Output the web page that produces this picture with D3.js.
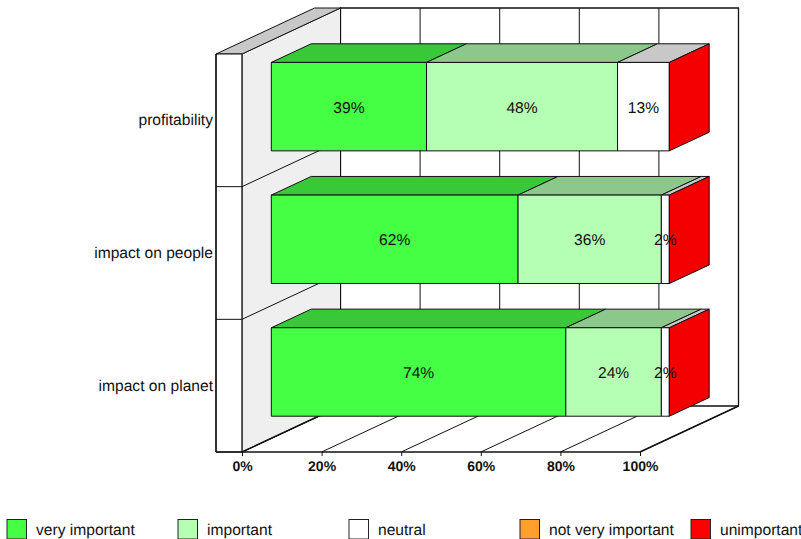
<!DOCTYPE html>
<html>
<head>
<meta charset="utf-8">
<script src="https://cdn.jsdelivr.net/npm/d3@7"></script>
<style>
html,body{margin:0;padding:0;background:#fff;overflow:hidden}
svg{display:block}
text{font-family:"Liberation Sans",Arial,sans-serif;fill:#111;text-rendering:geometricPrecision}
</style>
</head>
<body>
<svg id="chart" width="801" height="539"></svg>
<script>
// Share of respondents per rating, in percent
const categories = ["profitability", "impact on people", "impact on planet"];
const seriesNames = ["very important", "important", "neutral", "not very important", "unimportant"];
const veryImportant = [39, 62, 74];
const important = [48, 36, 24];
const neutral = [13, 2, 2];
const notVeryImportant = [0, 0, 0];
const unimportant = [0, 0, 0];
const xTicks = [0, 20, 40, 60, 80, 100];

const frontColors = ["#44ff44", "#b4ffb4", "#ffffff", "#ff9f2e", "#ff0000"];
const topColors = ["#38c838", "#8cc88c", "#c8c8c8", "#c87d24", "#c80000"];
const sideColors = ["#38c838", "#8cc88c", "#c8c8c8", "#c87d24", "#f40000"];

const seriesValues = [veryImportant, important, neutral, notVeryImportant, unimportant];
const svg = d3.select("#chart");

// Front plane of the 3D box and the depth vector running to its back wall
const frontLeft = 242, frontRight = 640, frontTop = 54, frontBottom = 452;
const depthX = 98.5, depthY = -46;
const panelLeft = 216;

const x = d3.scaleLinear().domain([0, 100]).range([0, frontRight - frontLeft]);
const y = d3.scaleBand().domain(categories).range([frontTop, frontBottom])
  .paddingInner(1 / 3).paddingOuter(1 / 6);
// Fraction of the depth: bars sit in the middle 40% of the box
const barNear = 0.2975, barFar = 0.7025;

const poly = (pts, fill, stroke, width) => svg.append("polygon")
  .attr("points", pts.map(p => p.join(",")).join(" "))
  .attr("fill", fill).attr("stroke", stroke || "#111").attr("stroke-width", width || 1)
  .attr("stroke-linejoin", "round");
const line = (a, b, width, color) => svg.append("line")
  .attr("x1", a[0]).attr("y1", a[1]).attr("x2", b[0]).attr("y2", b[1])
  .attr("stroke", color || "#111").attr("stroke-width", width || 1);

// Back wall with its vertical gridlines
poly([[frontLeft + depthX, frontTop + depthY], [frontRight + depthX, frontTop + depthY],
      [frontRight + depthX, frontBottom + depthY], [frontLeft + depthX, frontBottom + depthY]], "#fff", "#111", 1.3);
xTicks.forEach(t => {
  const px = frontLeft + x(t);
  line([px + depthX, frontTop + depthY], [px + depthX, frontBottom + depthY], 1);
  // floor gridline
  line([px, frontBottom], [px + depthX, frontBottom + depthY], 1);
});

// Left wall
poly([[frontLeft, frontTop], [frontLeft + depthX, frontTop + depthY],
      [frontLeft + depthX, frontBottom + depthY], [frontLeft, frontBottom]], "#efefef", "#111", 1);
// Top of the raised left panel
poly([[panelLeft, frontTop], [frontLeft, frontTop], [frontLeft + depthX, frontTop + depthY],
      [panelLeft + depthX, frontTop + depthY]], "#c8c8c8", "#111", 1);
// Front of the left panel
poly([[panelLeft, frontTop], [frontLeft, frontTop], [frontLeft, frontBottom], [panelLeft, frontBottom]], "#fff", "#111", 1);
line([panelLeft, frontTop], [panelLeft, frontBottom], 1.4);
line([frontLeft, frontTop], [frontLeft, frontBottom], 1, "#444");

// Category separators across the panel and up the left wall
const step = y.step();
categories.slice(1).forEach((c, i) => {
  const yy = frontTop + step * (i + 1);
  line([panelLeft, yy], [frontLeft, yy], 1);
  line([frontLeft, yy], [frontLeft + depthX, yy + depthY], 1);
});

// Floor edges
line([frontLeft, frontBottom], [frontLeft + depthX, frontBottom + depthY], 1.5);
line([frontRight, frontBottom], [frontRight + depthX, frontBottom + depthY], 1.5);

// Stacked 3D bars
const dx0 = depthX * barNear, dy0 = depthY * barNear;
const dx1 = depthX * barFar, dy1 = depthY * barFar;
categories.forEach((c, row) => {
  let acc = 0;
  const top = y(c) + dy0, h = y.bandwidth();
  seriesValues.forEach((vals, s) => {
    const v = vals[row];
    const xa = frontLeft + x(acc) + dx0, xb = frontLeft + x(acc + v) + dx0;
    const bx = dx1 - dx0, by = dy1 - dy0;
    acc += v;
    if (v > 0) {
      poly([[xa, top], [xb, top], [xb + bx, top + by], [xa + bx, top + by]], topColors[s]);
      poly([[xa, top], [xb, top], [xb, top + h], [xa, top + h]], frontColors[s]);
    }
    // The right-hand end cap shows only on the last, closing series
    if (s === seriesValues.length - 1) {
      poly([[xb, top], [xb + bx, top + by], [xb + bx, top + h + by], [xb, top + h]], sideColors[s]);
    }
  });
  // Value labels go on after every segment, so they sit over neighbouring faces
  acc = 0;
  seriesValues.forEach(vals => {
    const v = vals[row];
    if (v > 0) {
      svg.append("text")
        .attr("x", frontLeft + x(acc + v / 2) + dx0)
        .attr("y", top + h / 2 + 0.4)
        .attr("dy", "0.35em")
        .attr("text-anchor", "middle")
        .attr("font-size", 15.6)
        .text(v + "%");
    }
    acc += v;
  });
});

// Front floor edge and value axis
const xAxis = d3.axisBottom(x).tickValues(xTicks).tickFormat(d => d + "%").tickSize(4).tickPadding(5);
const gx = svg.append("g").attr("transform", `translate(${frontLeft},${frontBottom})`).call(xAxis);
gx.select(".domain").remove();
gx.selectAll("line").attr("stroke", "#111");
gx.selectAll("text").attr("font-size", 14).attr("font-weight", "bold").attr("font-family", '"Liberation Sans",Arial,sans-serif').attr("fill", "#111");
line([panelLeft, frontBottom], [frontRight, frontBottom], 1.5);

// Category axis
const yAxis = d3.axisLeft(y).tickSize(0).tickPadding(3);
const gy = svg.append("g").attr("transform", `translate(${panelLeft},0)`).call(yAxis);
gy.select(".domain").remove();
gy.selectAll("text").attr("font-size", 15.6).attr("font-family", '"Liberation Sans",Arial,sans-serif').attr("fill", "#111");

// Legend
const legendX = d3.scalePoint().domain(seriesNames).range([7, 691]);
const legend = svg.append("g").selectAll("g").data(seriesNames).join("g")
  .attr("transform", d => `translate(${legendX(d)},519.5)`);
legend.append("rect").attr("width", 19.5).attr("height", 19.5)
  .attr("fill", (d, i) => frontColors[i]).attr("stroke", "#222").attr("stroke-width", 1);
legend.append("text").attr("x", 29).attr("y", 10).attr("dy", "0.35em")
  .attr("font-size", 15.6).text(d => d);
</script>
</body>
</html>
